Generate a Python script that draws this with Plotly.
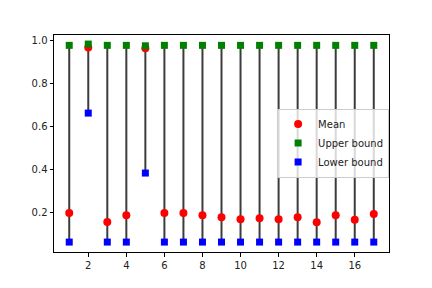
import plotly.graph_objects as go

x_vals = list(range(1, 18))
mean_vals = [0.20, 0.967, 0.158, 0.189, 0.963, 0.20, 0.20, 0.189, 0.18, 0.171, 0.175, 0.171, 0.18, 0.157, 0.189, 0.168, 0.195]
upper_vals = [0.977, 0.983, 0.977, 0.977, 0.975, 0.977, 0.977, 0.977, 0.977, 0.977, 0.977, 0.977, 0.977, 0.977, 0.977, 0.977, 0.977]
lower_vals = [0.065, 0.663, 0.065, 0.065, 0.385, 0.065, 0.065, 0.065, 0.065, 0.065, 0.065, 0.065, 0.065, 0.065, 0.065, 0.065, 0.065]

lx, ly = [], []
for x, lo, up in zip(x_vals, lower_vals, upper_vals):
    lx += [x, x, None]
    ly += [lo, up, None]

fig = go.Figure()
fig.add_trace(go.Scatter(x=lx, y=ly, mode="lines", line=dict(color="#3c3c3c", width=2),
                         showlegend=False, hoverinfo="skip"))
fig.add_trace(go.Scatter(x=x_vals, y=mean_vals, mode="markers", name="Mean",
                         marker=dict(color="red", size=8, symbol="circle")))
fig.add_trace(go.Scatter(x=x_vals, y=upper_vals, mode="markers", name="Upper bound",
                         marker=dict(color="green", size=7, symbol="square")))
fig.add_trace(go.Scatter(x=x_vals, y=lower_vals, mode="markers", name="Lower bound",
                         marker=dict(color="blue", size=7, symbol="square")))

axis_common = dict(showgrid=False, zeroline=False, showline=True, mirror=True,
                   linecolor="black", linewidth=1, ticks="outside", ticklen=3.5,
                   tickcolor="black", tickfont=dict(size=10, color="#222"))
fig.update_xaxes(range=[0.2, 17.8], tickvals=[2, 4, 6, 8, 10, 12, 14, 16], **axis_common)
fig.update_yaxes(range=[0.019, 1.025], tickvals=[0.2, 0.4, 0.6, 0.8, 1.0],
                 ticktext=["0.2", "0.4", "0.6", "0.8", "1.0"], **axis_common)

fig.update_layout(
    width=424, height=280,
    margin=dict(l=46, r=43, t=27, b=36, autoexpand=False),
    paper_bgcolor="white", plot_bgcolor="white",
    font=dict(family="DejaVu Sans", size=10, color="#222"),
    legend=dict(x=0.666, y=0.502, xanchor="left", yanchor="middle",
                bordercolor="#cccccc", borderwidth=1, bgcolor="rgba(255,255,255,0.8)",
                font=dict(size=10), itemwidth=30, tracegroupgap=0),
)
fig.write_html("out.html")
